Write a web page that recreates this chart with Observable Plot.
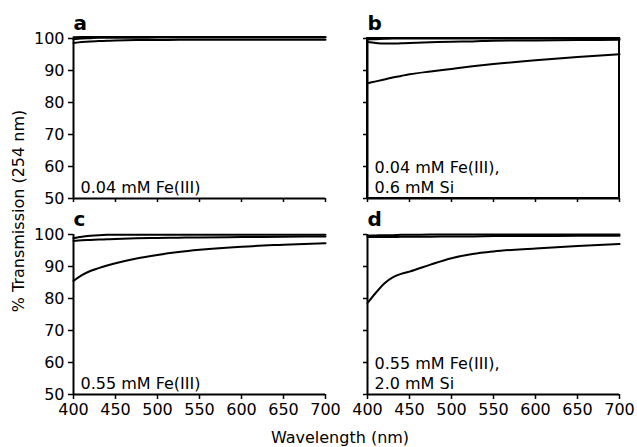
<!DOCTYPE html>
<html>
<head>
<meta charset="utf-8">
<script src="https://cdn.jsdelivr.net/npm/d3@7"></script>
<script src="https://cdn.jsdelivr.net/npm/@observablehq/plot@0.6"></script>
<style>
  html, body { margin: 0; padding: 0; background: #fff; }
  #chart svg { display: block; }
</style>
</head>
<body>
<div id="chart"></div>
<script>
// ---------- data ----------
const wavelengths = [400, 410, 420, 430, 440, 450, 475, 500, 525, 550, 600, 650, 700];

const panelLetters = ["a", "b", "c", "d"];
const panelCols = ["L", "R", "L", "R"];
const panelRows = ["T", "T", "B", "B"];
const panelNotes = [
  "0.04 mM Fe(III)",
  "0.04 mM Fe(III),\n0.6 mM Si",
  "0.55 mM Fe(III)",
  "0.55 mM Fe(III),\n2.0 mM Si"
];

// % transmission per panel, three spectra each
const seriesA1 = [100.4, 100.5, 100.5, 100.5, 100.5, 100.5, 100.5, 100.5, 100.5, 100.5, 100.5, 100.5, 100.5];
const seriesA2 = [98.6, 98.9, 99.1, 99.2, 99.3, 99.4, 99.5, 99.5, 99.6, 99.6, 99.6, 99.6, 99.6];
const seriesA3 = [99.8, 100.0, 100.1, 100.2, 100.2, 100.2, 100.2, 100.3, 100.3, 100.3, 100.3, 100.3, 100.3];

const seriesB1 = [99.7, 99.8, 99.9, 100.0, 100.0, 100.0, 100.0, 100.0, 100.0, 100.0, 100.0, 100.0, 100.0];
const seriesB2 = [98.9, 98.6, 98.4, 98.4, 98.5, 98.6, 98.8, 99.0, 99.1, 99.3, 99.4, 99.5, 99.6];
const seriesB3 = [86.0, 86.6, 87.2, 87.8, 88.3, 88.8, 89.7, 90.5, 91.3, 92.0, 93.2, 94.2, 95.1];

const seriesC1 = [98.8, 99.3, 99.6, 99.8, 99.9, 99.9, 99.9, 99.9, 99.9, 99.9, 99.9, 99.9, 99.9];
const seriesC2 = [98.0, 98.2, 98.3, 98.4, 98.5, 98.6, 98.8, 98.9, 99.0, 99.1, 99.2, 99.3, 99.4];
const seriesC3 = [85.5, 87.3, 88.6, 89.5, 90.3, 91.0, 92.5, 93.6, 94.5, 95.2, 96.2, 96.8, 97.3];

const seriesD1 = [99.6, 99.7, 99.8, 99.8, 99.9, 99.9, 100.0, 100.0, 100.0, 100.0, 100.0, 100.0, 100.0];
const seriesD2 = [99.2, 99.2, 99.2, 99.2, 99.3, 99.3, 99.3, 99.4, 99.4, 99.5, 99.5, 99.6, 99.6];
const seriesD3 = [78.6, 81.8, 84.7, 86.6, 87.7, 88.4, 90.6, 92.6, 93.9, 94.7, 95.6, 96.4, 97.0];

const panelSeries = [
  [seriesA1, seriesA2, seriesA3],
  [seriesB1, seriesB2, seriesB3],
  [seriesC1, seriesC2, seriesC3],
  [seriesD1, seriesD2, seriesD3]
];

const xTicks = [400, 450, 500, 550, 600, 650, 700];
const yTicks = [50, 60, 70, 80, 90, 100];
const xDomain = [400, 700];
const yDomain = [50, 100];
const framedPanels = ["b"];

const xTitle = "Wavelength (nm)";
const yTitle = "% Transmission (254 nm)";

// ---------- tables ----------
const lineRows = [];
panelSeries.forEach((list, p) => {
  list.forEach((vals, s) => {
    vals.forEach((v, i) => {
      lineRows.push({
        panel: panelLetters[p], col: panelCols[p], row: panelRows[p],
        series: panelLetters[p] + s, wl: wavelengths[i], t: v
      });
    });
  });
});
const panelTable = panelLetters.map((l, i) => ({
  letter: l, col: panelCols[i], row: panelRows[i], note: panelNotes[i]
}));
const frameTable = panelTable.filter(d => framedPanels.includes(d.letter));

// ---------- chart ----------
const chart = Plot.plot({
  width: 637,
  height: 447,
  marginLeft: 73,
  marginRight: 17,
  marginTop: 38,
  marginBottom: 52,
  style: { fontFamily: "DejaVu Sans", fontSize: "16px", color: "black", background: "white" },
  x: { domain: xDomain },
  y: { domain: yDomain },
  fx: { domain: ["L", "R"], axis: null, paddingInner: 0.1426, paddingOuter: 0 },
  fy: { domain: ["T", "B"], axis: null, paddingInner: 0.183, paddingOuter: 0 },
  marks: [
    // tick marks (no labels) on right column and top row
    Plot.axisY({ ticks: yTicks, anchor: "left", facetAnchor: "right", tickSize: 4, strokeWidth: 1.5, tickFormat: () => "", label: null }),
    Plot.axisX({ ticks: xTicks, anchor: "bottom", facetAnchor: "top", tickSize: 4, strokeWidth: 1.5, tickFormat: () => "", label: null }),
    // labelled axes on left column and bottom row
    Plot.axisY({ ticks: yTicks, anchor: "left", facetAnchor: "left", tickSize: 5, tickPadding: 4, strokeWidth: 1.5, label: null, fontSize: 16 }),
    Plot.axisX({ ticks: xTicks, anchor: "bottom", facetAnchor: "bottom", tickSize: 5, tickPadding: 4, strokeWidth: 1.5, label: null, fontSize: 16 }),
    // axis lines
    Plot.ruleX([xDomain[0]], { strokeWidth: 2 }),
    Plot.ruleY([yDomain[0]], { strokeWidth: 2 }),
    // boxed panel
    Plot.rect(frameTable, {
      fx: "col", fy: "row",
      x1: () => xDomain[0], x2: () => xDomain[1],
      y1: () => yDomain[0], y2: () => yDomain[1],
      fill: "none", stroke: "black", strokeWidth: 2
    }),
    // spectra
    Plot.line(lineRows, {
      x: "wl", y: "t", z: "series", fx: "col", fy: "row",
      stroke: "black", strokeWidth: 2, curve: "monotone-x"
    }),
    // panel letters
    Plot.text(panelTable, {
      fx: "col", fy: "row", text: "letter",
      frameAnchor: "top-left", textAnchor: "start", lineAnchor: "bottom",
      dx: 0, dy: -9, fontSize: 20, fontWeight: "bold", fill: "black"
    }),
    // notes
    Plot.text(panelTable, {
      fx: "col", fy: "row", text: "note",
      frameAnchor: "bottom-left", textAnchor: "start", lineAnchor: "bottom",
      dx: 7, dy: -6, fontSize: 16, lineHeight: 1.2, fill: "black"
    })
  ]
});

document.getElementById("chart").appendChild(chart);

// axis titles
const svg = d3.select(chart);
svg.append("text")
  .attr("x", 340).attr("y", 443)
  .attr("text-anchor", "middle")
  .attr("font-family", "DejaVu Sans").attr("font-size", 16).attr("fill", "black")
  .text(xTitle);
svg.append("text")
  .attr("transform", "translate(24,211) rotate(-90)")
  .attr("text-anchor", "middle")
  .attr("font-family", "DejaVu Sans").attr("font-size", 16).attr("fill", "black")
  .text(yTitle);
</script>
</body>
</html>
